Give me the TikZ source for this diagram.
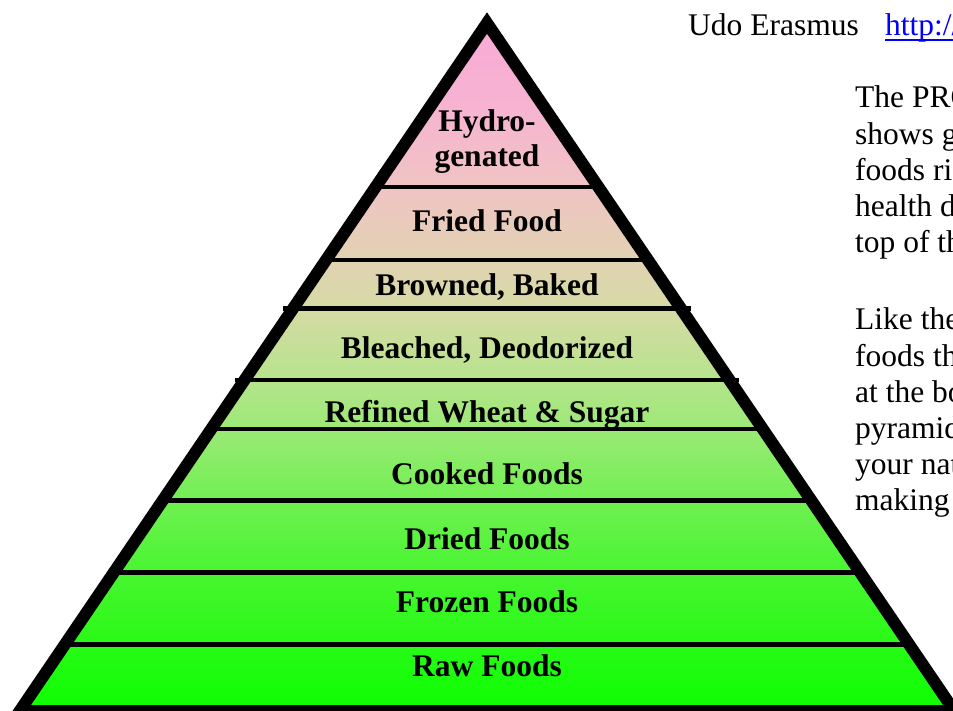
\documentclass[tikz,border=0pt]{standalone}
\usepackage{fontspec}
\setmainfont{Liberation Serif}
\definecolor{c0}{RGB}{250,168,216}
\definecolor{c1}{RGB}{247,178,210}
\definecolor{c2}{RGB}{240,196,196}
\definecolor{c3}{RGB}{225,210,178}
\definecolor{c4}{RGB}{214,218,165}
\definecolor{c5}{RGB}{182,228,140}
\definecolor{c6}{RGB}{155,233,118}
\definecolor{c7}{RGB}{112,240,82}
\definecolor{c8}{RGB}{72,245,48}
\definecolor{c9}{RGB}{40,250,22}
\definecolor{c10}{RGB}{12,255,2}
\definecolor{linkblue}{RGB}{0,0,255}
\begin{document}
\begin{tikzpicture}[x=1pt,y=-1pt,
  lbl/.style={font=\fontsize{31.5}{35}\selectfont\bfseries, anchor=base, inner sep=0pt},
  txt/.style={font=\fontsize{31.5}{36}\selectfont, anchor=base west, inner sep=0pt},
  divider/.style={line width=4.5pt, black},
  border/.style={line width=12pt, line join=miter, miter limit=20, black}]
\path[use as bounding box] (0,0) rectangle (953,711);
\clip (0,0) rectangle (953,711);
\coordinate (apex) at (487,23);
\coordinate (bl) at (19.7,711);
\coordinate (br) at (954.3,711);
\begin{scope}
  \clip (apex) -- (br) -- (bl) -- cycle;
  \foreach \ya/\yb/\ca/\cb in {0/100/c0/c1, 100/187/c1/c2, 187/260/c2/c3, 260/308.5/c3/c4,
      308.5/380/c4/c5, 380/429/c5/c6, 429/500.5/c6/c7, 500.5/572.5/c7/c8,
      572.5/644.5/c8/c9, 644.5/711/c9/c10}
    {\fill[top color=\ca, bottom color=\cb] (0,\ya-0.5) rectangle (953,\yb+0.5);}
  \foreach \y in {187,260,429,500.5,572.5,644.5}
    {\draw[divider] (0,\y) -- (953,\y);}
\end{scope}
\draw[border] (apex) -- (br) -- (bl) -- cycle;
\draw[divider] (283,308.5) -- (691,308.5);
\draw[divider] (235,380) -- (739,380);
% labels
\node[lbl] (hydroA) at (487,132) {Hydro-};
\node[lbl] (hydroB) at (487,167) {genated};
\node[lbl] (fried) at (487,232) {Fried Food};
\node[lbl] (browned) at (487,295.5) {Browned, Baked};
\node[lbl] (bleached) at (487,358.5) {Bleached, Deodorized};
\node[lbl] (refined) at (487,422) {Refined Wheat \& Sugar};
\node[lbl] (cooked) at (487,484.5) {Cooked Foods};
\node[lbl] (dried) at (487,549) {Dried Foods};
\node[lbl] (frozen) at (487,612.5) {Frozen Foods};
\node[lbl] (raw) at (487,676) {Raw Foods};
% right text
\node[txt] (udo) at (688,36) {Udo Erasmus};
\node[txt, text=linkblue] (url) at (885,36) {http://};
\draw[linkblue, line width=1.5pt] ([yshift=-4pt]url.base west) -- ([yshift=-4pt]url.base east);
\node[txt] (l1) at (855,108) {The PRO};
\node[txt] (l2) at (855,144.5) {shows g};
\node[txt] (l3) at (855,180.5) {foods ri};
\node[txt] (l4) at (855,217) {health d};
\node[txt] (l5) at (855,253) {top of th};
\node[txt] (l6) at (855,330) {Like the};
\node[txt] (l7) at (855,366) {foods th};
\node[txt] (l8) at (855,402.5) {at the bo};
\node[txt] (l9) at (855,438.5) {pyramid};
\node[txt] (l10) at (855,474.5) {your nat};
\node[txt] (l11) at (855,510.5) {making};
\end{tikzpicture}
\end{document}
